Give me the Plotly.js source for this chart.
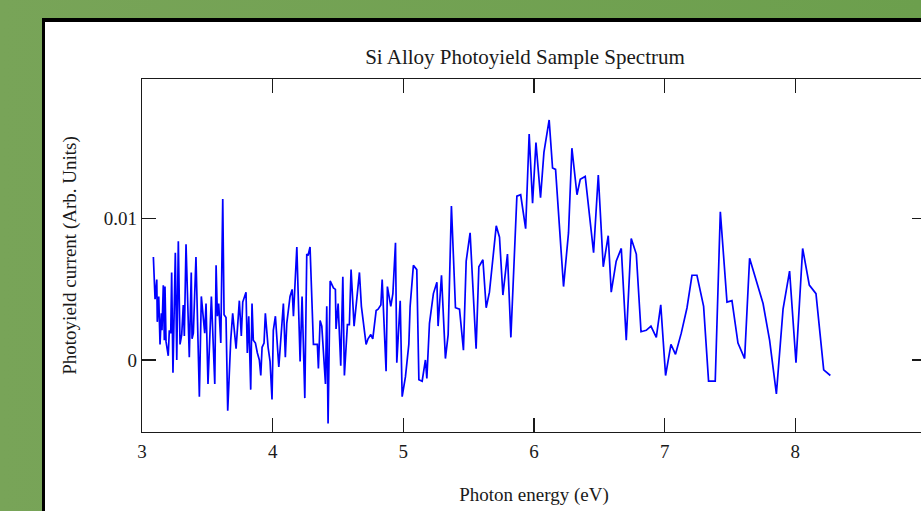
<!DOCTYPE html>
<html>
<head>
<meta charset="utf-8">
<script src="https://cdn.plot.ly/plotly-3.0.1.min.js"></script>
<style>
  html, body { margin: 0; padding: 0; width: 921px; height: 511px; overflow: hidden;
    background: linear-gradient(to right, #78a458, #6c9f4d); }
  #frame { position: absolute; left: 42px; top: 18px; width: 1000px; height: 600px;
    background: #ffffff; border-left: 3px solid #000; border-top: 4px solid #000; }
  #chart { position: absolute; left: 0; top: 0; width: 1000px; height: 511px; }
</style>
</head>
<body>
<div id="frame"></div>
<div id="chart"></div>
<script>
// Photon energy (eV)
const photonEnergy = [
  3.087,3.100,3.113,3.117,3.128,3.138,3.148,3.153,3.163,3.171,
  3.176,3.184,3.201,3.209,3.220,3.227,3.237,3.255,3.266,3.278,
  3.291,3.304,3.316,3.324,3.337,3.362,3.377,3.383,3.393,3.413,
  3.439,3.454,3.480,3.490,3.505,3.531,3.557,3.567,3.577,3.587,
  3.603,3.618,3.628,3.643,3.656,3.679,3.694,3.720,3.745,3.760,
  3.771,3.786,3.796,3.806,3.817,3.832,3.842,3.852,3.868,3.883,
  3.898,3.909,3.919,3.934,3.944,3.965,3.980,3.995,4.005,4.021,
  4.047,4.082,4.097,4.108,4.133,4.149,4.159,4.185,4.210,4.225,
  4.246,4.261,4.271,4.286,4.312,4.342,4.350,4.363,4.376,4.404,
  4.414,4.424,4.440,4.465,4.480,4.485,4.501,4.521,4.537,4.549,
  4.572,4.587,4.600,4.623,4.664,4.679,4.715,4.730,4.751,4.766,
  4.792,4.807,4.828,4.838,4.868,4.878,4.904,4.920,4.940,4.950,
  4.976,4.991,5.016,5.042,5.052,5.077,5.103,5.119,5.144,5.169,
  5.180,5.200,5.230,5.257,5.266,5.292,5.322,5.343,5.368,5.399,
  5.430,5.460,5.481,5.511,5.557,5.578,5.609,5.634,5.659,5.711,
  5.736,5.762,5.797,5.823,5.869,5.898,5.936,5.963,5.989,6.015,
  6.050,6.076,6.116,6.142,6.165,6.226,6.264,6.290,6.329,6.354,
  6.392,6.456,6.492,6.530,6.568,6.591,6.629,6.668,6.706,6.744,
  6.783,6.819,6.859,6.895,6.936,6.970,7.007,7.048,7.083,7.127,
  7.171,7.209,7.247,7.298,7.336,7.387,7.426,7.477,7.515,7.561,
  7.612,7.650,7.701,7.753,7.803,7.855,7.906,7.956,8.005,8.056,
  8.107,8.158,8.217,8.268
];
// Photoyield current (Arb. Units)
const photoCurrent = [
  0.0073,0.0043,0.0057,0.0027,0.0045,0.0011,0.0033,0.0021,0.0053,0.0014,
  0.0052,0.0013,0.0003,0.0021,0.0019,0.0062,-0.0009,0.0076,0.0000,0.0084,
  0.0011,0.0018,0.0039,0.0017,0.0082,0.0002,0.0062,0.0015,0.0019,0.0073,
  -0.0026,0.0045,0.0019,0.0040,-0.0017,0.0045,-0.0017,0.0067,0.0031,0.0040,
  0.0012,0.0114,0.0032,0.0030,-0.0036,0.0014,0.0033,0.0008,0.0042,0.0017,
  0.0041,0.0045,0.0048,0.0005,0.0031,-0.0021,0.0040,0.0014,0.0012,0.0005,
  0.0000,-0.0011,0.0009,0.0012,0.0033,0.0009,-0.0001,-0.0028,0.0021,0.0031,
  -0.0005,0.0040,0.0002,0.0026,0.0045,0.0050,0.0031,0.0080,-0.0001,0.0045,
  -0.0027,0.0075,0.0074,0.0080,0.0011,0.0011,-0.0006,0.0028,0.0024,-0.0017,
  0.0038,-0.0045,0.0056,0.0051,0.0050,0.0022,0.0040,-0.0004,0.0059,-0.0011,
  0.0025,0.0025,0.0064,0.0024,0.0062,0.0038,0.0011,0.0015,0.0018,0.0015,
  0.0035,0.0036,0.0039,0.0057,-0.0008,0.0052,0.0038,0.0047,0.0083,-0.0002,
  0.0042,-0.0026,-0.0012,0.0011,0.0038,0.0067,0.0064,-0.0014,-0.0015,0.0000,
  -0.0013,0.0026,0.0047,0.0055,0.0024,0.0060,0.0001,0.0018,0.0109,0.0037,
  0.0036,0.0007,0.0070,0.0090,0.0008,0.0066,0.0071,0.0037,0.0048,0.0095,
  0.0087,0.0046,0.0075,0.0016,0.0116,0.0117,0.0093,0.0160,0.0111,0.0154,
  0.0115,0.0147,0.0170,0.0136,0.0135,0.0052,0.0090,0.0150,0.0117,0.0128,
  0.0130,0.0076,0.0131,0.0066,0.0088,0.0048,0.0070,0.0079,0.0014,0.0086,
  0.0075,0.0020,0.0021,0.0024,0.0016,0.0039,-0.0011,0.0011,0.0004,0.0019,
  0.0037,0.0060,0.0060,0.0038,-0.0015,-0.0015,0.0105,0.0041,0.0042,0.0012,
  0.0001,0.0072,0.0056,0.0040,0.0014,-0.0024,0.0036,0.0063,-0.0002,0.0079,
  0.0053,0.0047,-0.0007,-0.0011
];
const xTickVals = [3, 4, 5, 6, 7, 8];
const yTickVals = [0, 0.01];
const yTickText = ['0', '0.01'];

const serif = 'Liberation Serif, Times New Roman, serif';
const axisColor = '#1a1a1a';

Plotly.newPlot('chart', [{
  x: photonEnergy,
  y: photoCurrent,
  type: 'scatter',
  mode: 'lines',
  line: { color: '#0000ff', width: 1.7 },
  hoverinfo: 'skip'
}], {
  width: 1000,
  height: 511,
  margin: { l: 142, r: 74, t: 79, b: 79 },
  paper_bgcolor: 'rgba(0,0,0,0)',
  plot_bgcolor: '#ffffff',
  showlegend: false,
  font: { family: serif, size: 19, color: '#1a1a1a' },
  title: {
    text: 'Si Alloy Photoyield Sample Spectrum',
    font: { family: serif, size: 21, color: '#1a1a1a' },
    x: 0.525, xref: 'container', xanchor: 'center',
    y: 1 - 57 / 511, yref: 'container', yanchor: 'middle'
  },
  xaxis: {
    range: [3, 9],
    tickmode: 'array', tickvals: xTickVals,
    ticks: 'inside', ticklen: 14, tickwidth: 1.3, tickcolor: axisColor,
    showline: true, linecolor: axisColor, linewidth: 1.3, mirror: 'ticks',
    showgrid: false, zeroline: false,
    tickfont: { family: serif, size: 19, color: '#1a1a1a' },
    ticklabelstandoff: 2,
    title: { text: 'Photon energy (eV)', font: { family: serif, size: 19, color: '#1a1a1a' }, standoff: 26 }
  },
  yaxis: {
    range: [-0.0051, 0.0199],
    tickmode: 'array', tickvals: yTickVals, ticktext: yTickText,
    ticks: 'inside', ticklen: 14, tickwidth: 1.3, tickcolor: axisColor,
    showline: true, linecolor: axisColor, linewidth: 1.3, mirror: 'ticks',
    showgrid: false, zeroline: false,
    tickfont: { family: serif, size: 19, color: '#1a1a1a' },
    title: { text: 'Photoyield current (Arb. Units)', font: { family: serif, size: 19, color: '#1a1a1a' }, standoff: 22 }
  }
}, { staticPlot: true, displayModeBar: false });
</script>
</body>
</html>
